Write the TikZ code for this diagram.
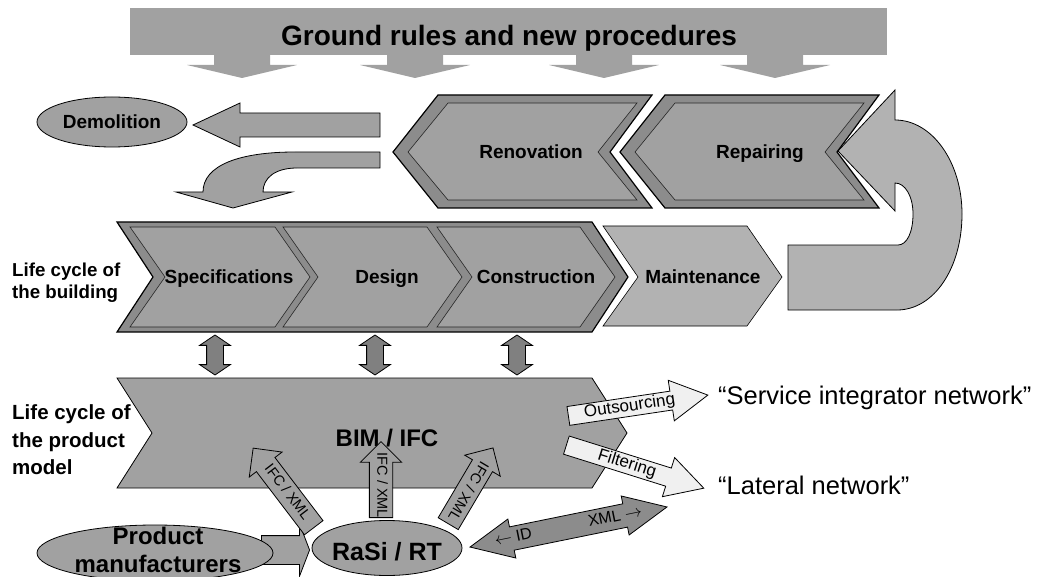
\documentclass[tikz,border=0pt]{standalone}
\usepackage{fontspec}
\setmainfont{Liberation Sans}
\usetikzlibrary{shapes.geometric,shapes.arrows}
\definecolor{midgray}{gray}{0.63}
\definecolor{rimgray}{gray}{0.55}
\definecolor{softgray}{gray}{0.70}
\definecolor{deepgray}{gray}{0.50}
\definecolor{palegray}{gray}{0.94}

\begin{document}
\begin{tikzpicture}[x=1pt,y=-1pt,
    lbl/.style={inner sep=0pt, font=\bfseries\fontsize{19}{23}\selectfont, text height=13.6pt, text depth=0pt},
    rim/.style={fill=rimgray, draw=black, line width=1.2pt},
    face/.style={fill=midgray, draw=black!85, line width=0.6pt},
    blob/.style={ellipse, fill=midgray, draw=black, line width=0.8pt, inner sep=0pt},
    linkarrow/.style={double arrow, rotate=90, draw=black, fill=deepgray, line width=0.8pt,
        inner sep=0pt, inner ysep=8pt, double arrow head extend=7pt, double arrow tip angle=112,
        minimum height=40},
    ifcarrow/.style={single arrow, shape border rotate=180, draw=black, fill=midgray, line width=0.8pt,
        single arrow head extend=9pt, single arrow tip angle=90, inner xsep=1pt, inner ysep=4.5pt,
        text height=10.5pt, text depth=3pt, font=\fontsize{14.5}{16}\selectfont, anchor=tail},
    netarrow/.style={single arrow, draw=black, fill=palegray, line width=0.8pt,
        single arrow head extend=11pt, single arrow tip angle=58, inner xsep=2pt, inner ysep=1.2pt,
        text height=12.2pt, text depth=3.6pt, font=\fontsize{17}{19}\selectfont, anchor=tail}]
\useasboundingbox (0,0) rectangle (1040,577);

% banner with the four arrows
\fill[midgray] (130,8) rectangle (887,55);
\foreach \cx in {242,415,604,775}
    \fill[midgray] (\cx-28,54) -- (\cx+28,54) -- (\cx+28,65) -- (\cx+55,65) -- (\cx,78) -- (\cx-55,65) -- (\cx-28,65) -- cycle;
\node[inner sep=0pt, font=\bfseries\fontsize{28}{32}\selectfont, text height=20pt, text depth=0pt] (title) at (509,36) {Ground rules and new procedures};

% end of life
\node[blob, minimum width=150, minimum height=50, lbl] (demol) at (112,122) {Demolition};
\filldraw[fill=midgray, draw=black, line width=0.8pt] (193,125) -- (240,103) -- (240,113) -- (380,113) -- (380,137) -- (240,137) -- (240,147) -- cycle;
\filldraw[fill=midgray, draw=black, line width=0.8pt] (380,152) -- (295,152) .. controls (240,152) and (203,165) .. (203,192) -- (176,192) -- (233,208) -- (292,192) -- (263,192) .. controls (263,178) and (275,168) .. (297,168) -- (380,168) -- cycle;

% renovation and repairing
\filldraw[rim] (393,152) -- (438,95) -- (652,95) -- (610,152) -- (652,208) -- (438,208) -- cycle;
\filldraw[face] (408,152) -- (448,103) -- (637,103) -- (598,152) -- (637,200) -- (448,200) -- cycle;
\node[lbl] (renov) at (531,152) {Renovation};
\filldraw[rim] (620,152) -- (665,95) -- (879,95) -- (837,152) -- (879,208) -- (665,208) -- cycle;
\filldraw[face] (635,152) -- (675,103) -- (864,103) -- (825,152) -- (864,200) -- (675,200) -- cycle;
\node[lbl] (repair) at (760,152) {Repairing};

% return loop
\filldraw[fill=softgray, draw=black, line width=0.8pt] (838,151) -- (895,90) -- (895,120) .. controls (932,120) and (962,162) .. (962,214) .. controls (962,268) and (934,310) .. (897,310) -- (788,310) -- (788,245) -- (898,245) .. controls (907,245) and (913,232) .. (913,214) .. controls (913,196) and (905,183) .. (895,183) -- (895,211) -- cycle;

% life cycle of the building
\filldraw[rim] (117,222) -- (592,222) -- (628,277) -- (592,332) -- (117,332) -- (153,277) -- cycle;
\filldraw[face] (130,227) -- (275,227) -- (310,277) -- (275,327) -- (130,327) -- (165,277) -- cycle;
\filldraw[face] (283,227) -- (427,227) -- (462,277) -- (427,327) -- (283,327) -- (318,277) -- cycle;
\filldraw[face] (437,227) -- (580,227) -- (615,277) -- (580,327) -- (437,327) -- (472,277) -- cycle;
\filldraw[fill=softgray, draw=black, line width=0.6pt] (603,226) -- (747,226) -- (782,277) -- (747,326) -- (603,326) -- (638,277) -- cycle;
\node[lbl] (spec) at (229,277) {Specifications};
\node[lbl] (design) at (387,277) {Design};
\node[lbl] (constr) at (536,277) {Construction};
\node[lbl] (maint) at (703,277) {Maintenance};
\node[anchor=west, align=left, inner sep=0pt, font=\bfseries\fontsize{18.7}{22}\selectfont] (lcbuild) at (12,283) {Life cycle of\\the building};

\foreach \cx/\nm in {215/spec,375/design,517/constr}
    \node[linkarrow] (link-\nm) at (\cx,355) {};

% life cycle of the product model
\filldraw[fill=midgray, draw=black, line width=0.8pt] (117,378) -- (592,378) -- (627,433) -- (592,488) -- (117,488) -- (152,433) -- cycle;
\node[inner sep=0pt, font=\bfseries\fontsize{24}{28}\selectfont, text height=17.2pt, text depth=0pt] (bim) at (387,438) {BIM / IFC};
\node[anchor=west, align=left, inner sep=0pt, font=\bfseries\fontsize{20.5}{27.5}\selectfont] (lcmodel) at (12,440) {Life cycle of\\the product\\model};

% suppliers
\node[single arrow, draw=black, fill=midgray, line width=0.8pt, inner sep=0pt, inner ysep=14pt,
    single arrow head extend=12pt, single arrow tip angle=138, minimum height=48, anchor=tip] (supply) at (310,550) {};
\node[blob, minimum width=236, minimum height=56] (prod) at (155,553) {};
\node[align=center, inner sep=0pt, font=\bfseries\fontsize{24}{28.5}\selectfont] (prodtxt) at (158,550) {Product\\manufacturers};
\node[blob, minimum width=150, minimum height=55] (rasi) at (387,548) {};
\node[inner sep=0pt, font=\bfseries\fontsize{25}{29}\selectfont, text height=18pt, text depth=0pt] (rasitxt) at (387,551) {RaSi / RT};

\node[ifcarrow, rotate=-52.7, minimum height=100] (ifc-l) at (314,528) {IFC / XML};
\node[ifcarrow, rotate=-90, minimum height=76] (ifc-m) at (381,518) {\makebox[40pt]{IFC / XML}};
\node[ifcarrow, rotate=-120.6, minimum height=88] (ifc-r) at (448,524) {IFC / XML};

\node[double arrow, draw=black, fill=rimgray, line width=0.8pt, rotate=11.5, minimum height=201,
    double arrow head extend=8pt, double arrow tip angle=50, inner xsep=0pt, inner ysep=4pt,
    text height=11.5pt, text depth=3.5pt, font=\fontsize{16}{18}\selectfont] (idxml) at (568.5,527)
    {\makebox[100pt]{\makebox[150pt]{$\leftarrow$ ID\hfill XML $\rightarrow$}}};

% networks
\node[netarrow, rotate=8.5, minimum height=141] (outsrc) at (568,416) {Outsourcing};
\node[netarrow, rotate=-17.4, minimum height=144] (filter) at (566,445) {Filtering};
\node[anchor=west, inner sep=0pt, font=\fontsize{25.5}{30}\selectfont, text height=18.3pt, text depth=0pt] (sinet) at (718,395) {“Service integrator network”};
\node[anchor=west, inner sep=0pt, font=\fontsize{25.5}{30}\selectfont, text height=18.3pt, text depth=0pt] (latnet) at (718,485) {“Lateral network”};

\end{tikzpicture}
\end{document}
